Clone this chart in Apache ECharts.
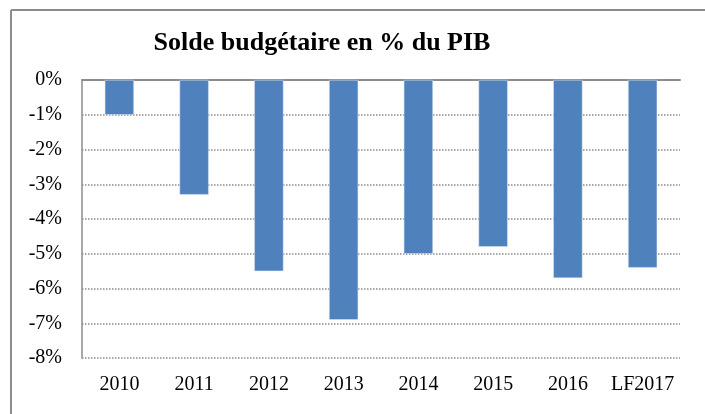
<!DOCTYPE html>
<html>
<head>
<meta charset="utf-8">
<script src="https://cdn.jsdelivr.net/npm/echarts@6/dist/echarts.min.js"></script>
<style>
  html, body { margin: 0; padding: 0; background: #fff; }
  #chart { width: 705px; height: 414px; }
</style>
</head>
<body>
<div id="chart"></div>
<script>
// catégories et valeurs (solde en % du PIB)
const years = ['2010', '2011', '2012', '2013', '2014', '2015', '2016', 'LF2017'];
const solde = [-1.0, -3.3, -5.5, -6.9, -5.0, -4.8, -5.7, -5.4];

const chart = echarts.init(document.getElementById('chart'));
const serif = '"Liberation Serif", "DejaVu Serif", serif';

chart.setOption({
    animation: false,
    title: {
        text: 'Solde budgétaire en % du PIB',
        left: 317,
        top: 25,
        textAlign: 'center',
        textStyle: { fontFamily: serif, fontSize: 26, fontWeight: 'bold', color: '#000' }
    },
    grid: { left: 82, top: 80, right: 25, bottom: 56 },
    xAxis: [
        {
            type: 'category',
            data: years,
            position: 'bottom',
            axisLine: { show: false, onZero: false },
            axisTick: { show: false },
            axisLabel: { interval: 0, fontFamily: serif, fontSize: 20, color: '#000', margin: 17 }
        },
        {
            // ligne de l'axe à 0%
            type: 'category',
            data: years,
            position: 'top',
            axisLine: { show: true, lineStyle: { color: '#8c8c8c', width: 2 } },
            axisTick: { show: false },
            axisLabel: { show: false }
        }
    ],
    yAxis: {
        type: 'value',
        min: -8,
        max: 0,
        interval: 1,
        axisLine: { show: true, lineStyle: { color: '#8c8c8c', width: 1.5 } },
        axisTick: { show: false },
        axisLabel: {
            formatter: '{value}%',
            fontFamily: serif,
            fontSize: 20,
            color: '#000',
            margin: 20
        },
        splitLine: { lineStyle: { color: '#8c8c8c', type: 'dotted', width: 1.5 } }
    },
    series: [{
        type: 'bar',
        data: solde,
        barWidth: '39%',
        itemStyle: { color: '#4f81bd', borderColor: '#dce6f2', borderWidth: 0.5 }
    }],
    graphic: [
        { type: 'line', shape: { x1: 11, y1: 10, x2: 705, y2: 10 }, style: { stroke: '#8c8c8c', lineWidth: 2 } },
        { type: 'line', shape: { x1: 11, y1: 10, x2: 11, y2: 414 }, style: { stroke: '#8c8c8c', lineWidth: 2 } }
    ]
});
</script>
</body>
</html>
